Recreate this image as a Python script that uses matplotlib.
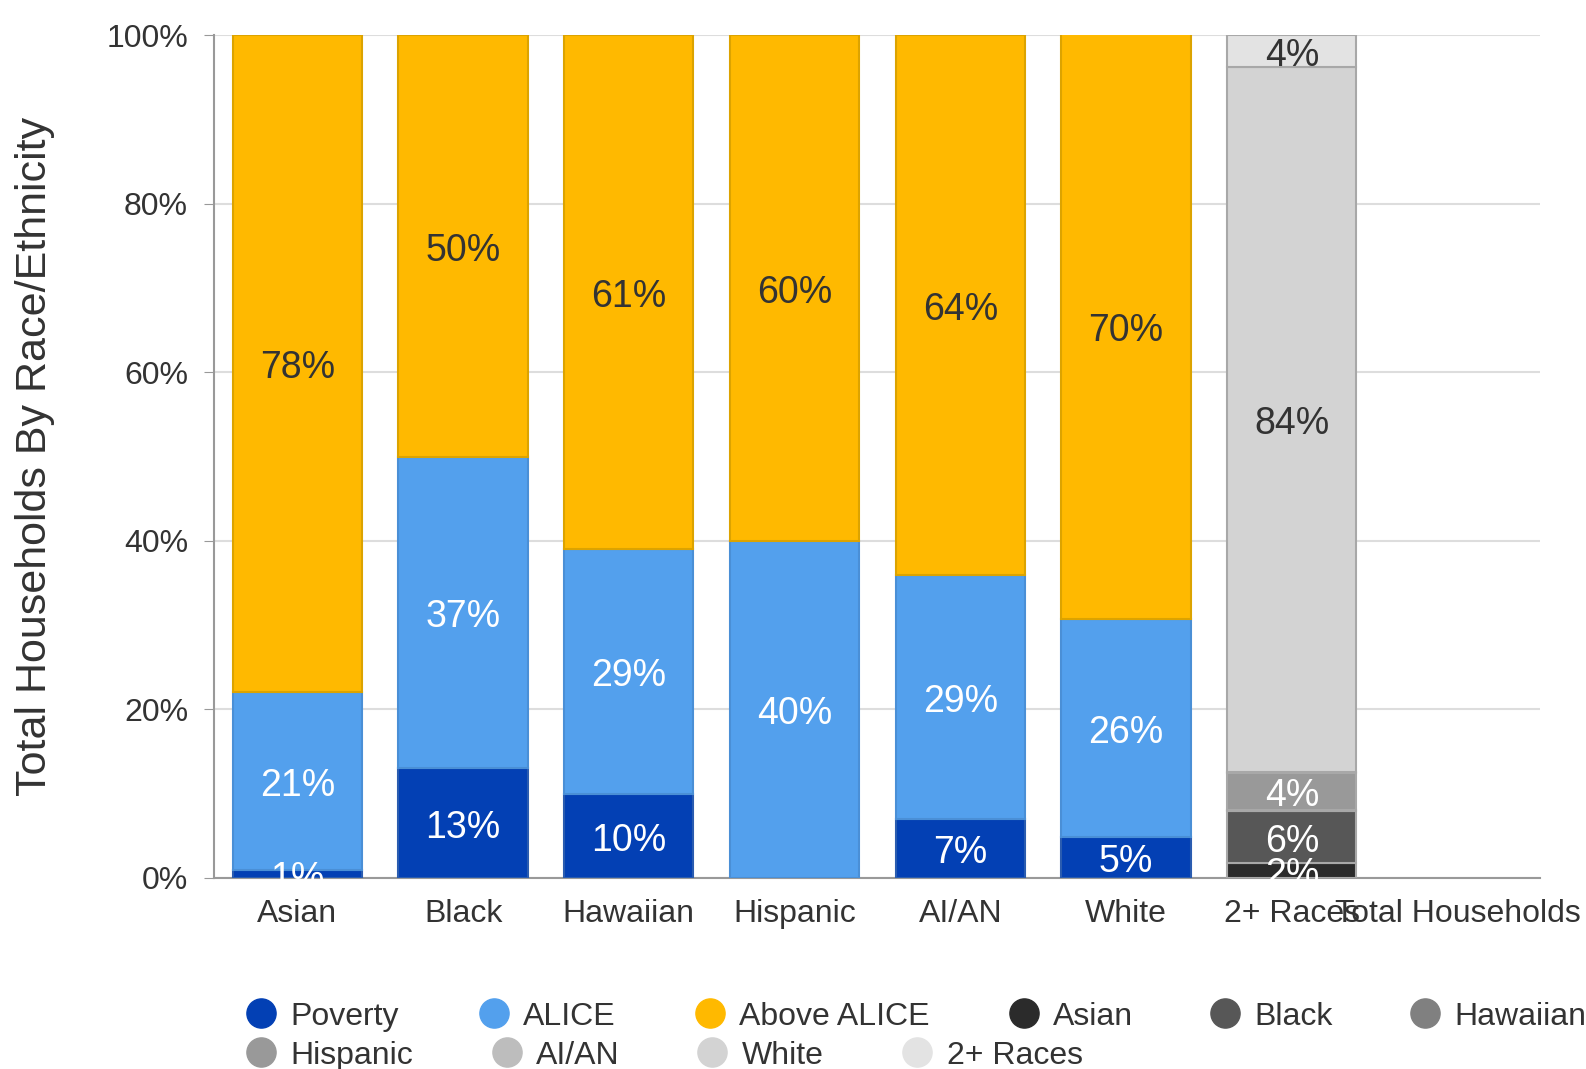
import numpy as np
import matplotlib
matplotlib.use("Agg")
import matplotlib.pyplot as plt
from matplotlib.lines import Line2D

plt.rcParams['font.family'] = ['Liberation Sans', 'DejaVu Sans']

# data, in percent of households
categories = ["Asian", "Black", "Hawaiian", "Hispanic", "AI/AN", "White", "2+ Races", "Total Households"]
poverty = [0.9, 13, 10, 0, 7, 4.8]
alice = [21.2, 37, 29, 40, 29, 25.9]
above_alice = [77.9, 50, 61, 60, 64, 69.6]

# the "2+ Races" column is split by race
race_names = ["Asian", "Black", "Hawaiian", "Hispanic", "AI/AN", "White", "2+ Races"]
race_shares = [1.8, 6.1, 0.2, 4.3, 0.2, 83.7, 3.7]

income_names = ["Poverty", "ALICE", "Above ALICE"]
income_colors = ["#0340b4", "#53a0ed", "#ffb900"]
income_edges = ["#2a5cb0", "#4a8fd6", "#dca300"]
income_text = ["white", "white", "#333333"]

race_colors = ["#2b2b2b", "#575757", "#808080", "#999999", "#bdbdbd", "#d3d3d3", "#e3e3e3"]
race_text = ["white", "white", "white", "white", "#333333", "#333333", "#333333"]

# layout measured on a 1568 x 1057 view
W, H = 1568.0, 1057.0

fig = plt.figure(figsize=(15.86, 10.69), dpi=100)
ax = fig.add_axes([212 / W, 1 - 868 / H, (1523 - 212) / W, (868 - 35) / H])

x = np.arange(len(categories))
width = 0.78


def put_label(xc, bottom, h, color):
    if h < 0.5:
        return
    ax.annotate(f"{round(h):.0f}%", (xc, bottom + h / 2), xytext=(0, -3.5), textcoords="offset points",
                ha="center", va="center", fontsize=27, color=color, annotation_clip=False, zorder=5)


bottoms = np.zeros(len(poverty))
for series, col, ec, tc in zip([poverty, alice, above_alice], income_colors, income_edges, income_text):
    vals = np.array(series, dtype=float)
    ax.bar(x[:len(vals)], vals, width, bottom=bottoms, color=col, edgecolor=ec, linewidth=1.5, zorder=3)
    for i, v in enumerate(vals):
        put_label(x[i], bottoms[i], v, tc)
    bottoms = bottoms + vals

b = 0.0
xi = categories.index("2+ Races")
for v, col, tc in zip(race_shares, race_colors, race_text):
    ax.bar(x[xi], v, width, bottom=b, color=col, edgecolor="#a8a8a8", linewidth=1.5, zorder=3)
    put_label(x[xi], b, v, tc)
    b += v

ax.set_xlim(-0.5, len(categories) - 0.5)
ax.set_ylim(0, 100)
ax.set_yticks(np.arange(0, 101, 20))
ax.set_yticklabels([f"{t}%" for t in range(0, 101, 20)])
ax.set_xticks(x)
ax.set_xticklabels(categories)
ax.tick_params(axis="y", length=7, color="#999999", labelsize=23, labelcolor="#333333", pad=12)
ax.tick_params(axis="x", length=0, labelsize=23, labelcolor="#333333", pad=15)
ax.grid(axis="y", color="#dddddd", linewidth=1.5, zorder=0)
ax.set_axisbelow(True)
for s in ["top", "right"]:
    ax.spines[s].set_visible(False)
ax.spines["left"].set_color("#999999")
ax.spines["bottom"].set_color("#999999")
ax.spines["left"].set_linewidth(1.5)
ax.spines["bottom"].set_linewidth(1.5)

fig.text(35 / W, 1 - 451 / H, "Total Households By Race/Ethnicity", rotation=90,
         ha="center", va="center", fontsize=31, color="#333333")

# legend, laid out as a flowing two-row list
legend_names = income_names + race_names
legend_colors = income_colors + race_colors
legend_x = [258, 488, 702, 1012, 1211, 1409, 258, 501, 704, 907]
legend_y = [1002] * 6 + [1040] * 4
for name, col, lx, ly in zip(legend_names, legend_colors, legend_x, legend_y):
    fig.add_artist(Line2D([lx / W], [1 - ly / H], marker="o", markersize=21,
                          color=col, linestyle="none", transform=fig.transFigure))
    fig.text((lx + 29) / W, 1 - (ly + 4) / H, name, ha="left", va="center",
             fontsize=23, color="#333333")

fig.savefig("out.png", dpi=100)
